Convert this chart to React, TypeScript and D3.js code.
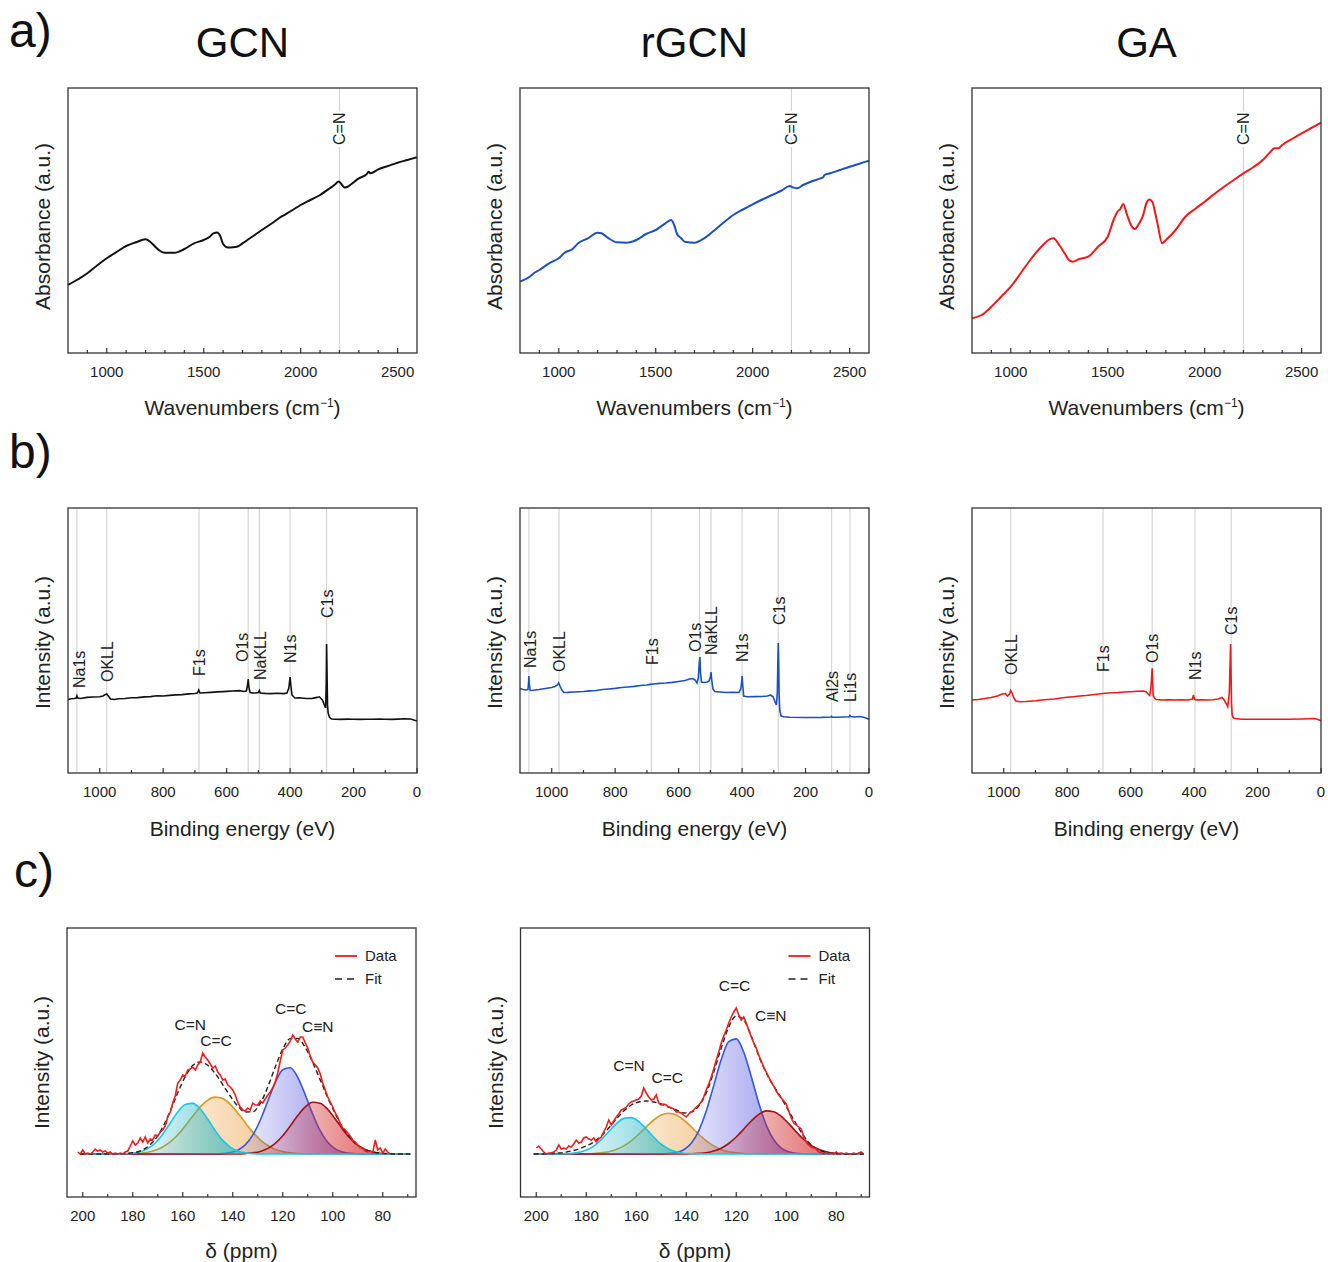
import React from "react";
import * as d3 from "d3";

const FONT = "'Liberation Sans', Arial, Helvetica, sans-serif";

// ---------- panel a: FTIR ----------
const ftirGcnX = [800, 850, 900, 950, 1000, 1050, 1100, 1150, 1200, 1225, 1250, 1275, 1300, 1350, 1400, 1450, 1500, 1530, 1550, 1570, 1585, 1600, 1625, 1650, 1675, 1700, 1750, 1800, 1850, 1900, 1950, 2000, 2050, 2100, 2150, 2180, 2195, 2210, 2225, 2240, 2260, 2300, 2340, 2350, 2360, 2400, 2450, 2500, 2550, 2600];
const ftirGcnY = [68, 73.5, 79.7, 87.5, 94.7, 101, 107, 110.7, 113.7, 111, 106.3, 102, 100.3, 100.3, 104, 109.7, 113, 116, 119.7, 120.5, 117, 109, 105.5, 105.7, 106.5, 109.7, 116.3, 123, 129.5, 136.3, 142, 148, 153, 158, 164.7, 169, 171.5, 169, 165.5, 166, 168.7, 174.7, 178.7, 181.3, 179.7, 183.7, 187, 190.3, 193, 195.7];

const ftirRgcnX = [800, 850, 875, 900, 950, 1000, 1030, 1070, 1100, 1150, 1200, 1220, 1250, 1300, 1350, 1400, 1450, 1500, 1550, 1580, 1595, 1610, 1630, 1650, 1700, 1750, 1800, 1850, 1900, 1950, 2000, 2050, 2100, 2150, 2190, 2210, 2230, 2260, 2300, 2350, 2365, 2370, 2400, 2450, 2500, 2550, 2600];
const ftirRgcnY = [71.3, 76.3, 80.3, 83, 89.7, 94.7, 100.3, 103.7, 109.7, 114.7, 120.3, 119.7, 115.7, 110.7, 110.3, 113, 119, 123, 129.7, 133, 128, 119, 115, 111.3, 110.3, 114.7, 122.3, 130.5, 138, 143.5, 148.7, 153.5, 158, 162.5, 167, 165.5, 164.7, 168, 171.3, 174.7, 176, 178, 179.7, 183, 186.3, 189.3, 192.3];

const ftirGaX = [800, 850, 900, 950, 1000, 1050, 1100, 1150, 1200, 1220, 1250, 1280, 1300, 1320, 1350, 1400, 1450, 1500, 1530, 1550, 1565, 1580, 1600, 1620, 1640, 1660, 1680, 1700, 1715, 1730, 1745, 1760, 1780, 1800, 1850, 1900, 1950, 2000, 2050, 2100, 2150, 2200, 2250, 2300, 2340, 2360, 2380, 2400, 2450, 2500, 2550, 2600];
const ftirGaY = [34.7, 38, 46.3, 56.3, 66.3, 79.5, 93, 104.7, 113.7, 114.7, 108, 99, 93, 91.3, 93.7, 96.3, 106.3, 116.3, 133, 141.3, 144, 149, 138, 128, 124, 129, 136.3, 150, 153.5, 151.3, 140, 126.3, 109.7, 113, 123, 136.3, 144, 151.3, 159, 166.3, 173, 179.7, 185.7, 193, 201.3, 204.7, 204.7, 208, 214, 219.7, 225, 230.3];

const ftirMajorTicks = [1000, 1500, 2000, 2500];
const ftirMarkerWn = 2200;
const ftirMarkerLabel = "C=N";

// ---------- panel b: XPS survey ----------
const xpsGcnEv = [1100, 1090, 1080, 1074, 1072, 1070, 1060, 1040, 1020, 1000, 990, 982, 978, 974, 966, 955, 940, 920, 900, 880, 860, 840, 820, 800, 780, 760, 740, 720, 700, 692, 688, 684, 670, 650, 630, 610, 600, 580, 560, 545, 538, 534, 532, 530, 526, 520, 510, 500, 497, 494, 480, 460, 440, 420, 410, 404, 400, 397, 394, 385, 370, 350, 330, 315, 308, 298, 292, 288, 286, 285, 284, 282, 280, 276, 270, 260, 240, 220, 200, 180, 160, 140, 120, 100, 80, 60, 40, 20, 10, 5, 0];
const xpsGcnI = [73.5, 74.2, 74.5, 75, 77, 75, 74.5, 75.6, 76, 76.2, 77, 78.5, 79, 77.5, 74, 73.5, 74.2, 74.5, 75.2, 75.4, 76.1, 76.4, 77.2, 77, 77.6, 78.1, 78.4, 79.1, 79.5, 80, 83, 80, 80.2, 80.6, 81.1, 81.4, 81.6, 82, 82.4, 81.5, 82, 88, 94, 86, 80.5, 80.1, 80, 80.5, 82.5, 80, 79.6, 79.4, 79.7, 79.4, 80, 85, 96, 86, 78, 75, 75.2, 74.5, 74.6, 75.6, 76.2, 73, 68, 65, 90, 129, 110, 68, 60, 56, 54, 53.8, 53.6, 53.9, 53.7, 53.6, 53.8, 53.7, 53.9, 53.7, 53.6, 53.9, 54.3, 54, 53, 52.6, 52];
const xpsGcnLabels = ["Na1s", "OKLL", "F1s", "O1s", "NaKLL", "N1s", "C1s"];
const xpsGcnLineEv = [1072, 978, 687, 532, 497, 400, 285];
const xpsGcnLabelEv = [1067, 978, 687, 553, 497, 400, 285];
const xpsGcnLabelAt = [85, 91, 97, 111, 93, 110, 155];

const xpsRgcnEv = [1100, 1090, 1080, 1075, 1073, 1072, 1071, 1068, 1060, 1040, 1020, 1000, 990, 982, 978, 974, 968, 962, 950, 930, 900, 880, 860, 840, 820, 800, 780, 760, 740, 720, 700, 690, 680, 660, 640, 620, 600, 580, 565, 555, 548, 542, 538, 535, 533, 531, 528, 520, 510, 504, 500, 498, 496, 492, 486, 470, 450, 430, 410, 404, 401, 400, 398, 395, 385, 360, 340, 320, 310, 302, 296, 292, 289, 287, 286, 285, 283, 281, 277, 270, 250, 200, 150, 120, 118, 116, 100, 80, 62, 60, 58, 45, 30, 20, 10, 0];
const xpsRgcnI = [84.5, 83.5, 83, 83.5, 90, 97, 90, 82.5, 82.7, 83.5, 84.5, 85.5, 86.5, 88, 90, 87, 83, 80.5, 80.6, 81, 81.5, 82.1, 82.5, 83.5, 84, 84.6, 85.5, 86, 86.6, 87.5, 88, 88.6, 89, 89.6, 90, 90.6, 91.5, 92.5, 94, 94.5, 93, 90, 95, 110, 116, 100, 91, 90.5, 91, 92, 96, 101, 94, 84, 81.5, 81, 80.5, 80.6, 80.5, 84, 92, 97, 88, 77, 76.3, 76.4, 76.5, 77, 78, 76, 71, 68, 80, 115, 130, 118, 75, 62, 57, 56.3, 55.8, 55.5, 55.6, 56, 56.6, 55.7, 55.8, 56, 56.3, 57.5, 56.5, 56, 56.5, 56, 55, 53.7];
const xpsRgcnLabels = ["Na1s", "OKLL", "F1s", "O1s", "NaKLL", "N1s", "C1s", "Al2s", "Li1s"];
const xpsRgcnLineEv = [1072, 977, 686, 534, 498, 400, 286, 118, 60];
const xpsRgcnLabelEv = [1070, 977, 686, 550, 498, 400, 286, 118, 60];
const xpsRgcnLabelAt = [105, 101, 108, 121, 118, 111, 148, 71, 71];

const xpsGaEv = [1100, 1080, 1060, 1040, 1020, 1005, 995, 988, 982, 978, 974, 968, 962, 950, 930, 900, 880, 860, 840, 820, 800, 780, 760, 740, 720, 700, 680, 660, 640, 620, 600, 580, 560, 550, 545, 540, 536, 533, 532, 531, 529, 526, 520, 500, 480, 460, 440, 420, 405, 402, 399, 395, 380, 360, 340, 325, 312, 305, 298, 294, 289, 286, 285, 284, 282, 280, 276, 270, 250, 200, 150, 100, 60, 40, 20, 10, 0];
const xpsGaI = [73, 73.5, 74.5, 75.5, 77, 79, 79.5, 77, 79, 82.5, 80, 75, 72, 71.3, 71.5, 72.3, 73, 73.5, 74, 75, 75.7, 76.3, 77, 77.5, 78.3, 79, 79.7, 80.2, 80.5, 81, 81.3, 81.7, 82, 81, 79, 77.5, 85, 100, 104.7, 95, 78, 75.5, 73.5, 73, 73.2, 73, 73.3, 73, 74, 78, 74, 73, 73.2, 73, 73.3, 74, 75.5, 73, 69, 66.3, 80, 115, 129, 110, 70, 58, 55, 54.5, 53.8, 53.7, 53.8, 53.7, 54, 54.2, 54.5, 53.5, 52.3];
const xpsGaLabels = ["OKLL", "F1s", "O1s", "N1s", "C1s"];
const xpsGaLineEv = [978, 687, 532, 397, 283];
const xpsGaLabelEv = [978, 687, 532, 397, 283];
const xpsGaLabelAt = [98, 101, 110, 93, 138];

const xpsMajorTicks = [1000, 800, 600, 400, 200, 0];

// ---------- panel c: 13C NMR ----------
const nmrGrid = [201, 198, 195, 192, 189, 186, 183, 180, 177, 174, 171, 168, 165, 162, 159, 156, 153, 150, 147, 144, 141, 138, 135, 132, 129, 126, 123, 120, 117, 114, 111, 108, 105, 102, 99, 96, 93, 90, 87, 84, 81, 78, 75, 72, 69];

const nmrGcnPpm = [202, 201, 200, 199, 198, 197, 196, 195, 194, 193, 192, 191, 190, 189, 188, 187, 186, 185, 184, 183, 182, 181, 180, 179, 178, 177, 176, 175, 174, 173, 172, 171, 170, 169, 168, 167, 166, 165, 164, 163, 162, 161, 160, 159, 158, 157, 156, 155, 154, 153, 152, 151, 150, 149, 148, 147, 146, 145, 144, 143, 142, 141, 140, 139, 138, 137, 136, 135, 134, 133, 132, 131, 130, 129, 128, 127, 126, 125, 124, 123, 122, 121, 120, 119, 118, 117, 116, 115, 114, 113, 112, 111, 110, 109, 108, 107, 106, 105, 104, 103, 102, 101, 100, 99, 98, 97, 96, 95, 94, 93, 92, 91, 90, 89, 88, 87, 86, 85, 84, 83, 82, 81, 80, 79, 78, 77];
const nmrGcnData = [0.02, 0, 0.04, 0, 0.01, 0, 0.02, 0.05, 0.03, 0.04, 0.02, 0.03, 0.01, 0.02, 0, 0.01, 0, 0.01, 0, 0.02, 0.03, 0.08, 0.13, 0.09, 0.11, 0.16, 0.12, 0.17, 0.11, 0.15, 0.14, 0.19, 0.18, 0.22, 0.24, 0.28, 0.37, 0.42, 0.51, 0.58, 0.71, 0.74, 0.79, 0.78, 0.84, 0.85, 0.87, 0.84, 0.89, 0.92, 1.01, 0.97, 0.94, 0.9, 0.86, 0.88, 0.82, 0.79, 0.74, 0.75, 0.69, 0.67, 0.64, 0.59, 0.52, 0.47, 0.44, 0.43, 0.46, 0.44, 0.51, 0.49, 0.49, 0.53, 0.51, 0.55, 0.59, 0.62, 0.66, 0.72, 0.81, 0.93, 1.04, 1.06, 1.09, 1.13, 1.19, 1.15, 1.12, 1.17, 1.17, 1.11, 1.06, 0.98, 0.92, 0.89, 0.86, 0.8, 0.71, 0.64, 0.57, 0.52, 0.47, 0.41, 0.37, 0.3, 0.26, 0.24, 0.21, 0.18, 0.14, 0.12, 0.09, 0.07, 0.06, 0.03, 0.02, 0.03, 0.01, 0.14, 0.04, 0.06, 0.01, 0.05, 0.02, 0];
const nmrGcnFit = [0, 0, 0, 0, 0, 0.002, 0.005, 0.012, 0.03, 0.072, 0.147, 0.268, 0.431, 0.612, 0.774, 0.884, 0.921, 0.887, 0.804, 0.694, 0.58, 0.48, 0.42, 0.422, 0.506, 0.669, 0.87, 1.05, 1.154, 1.156, 1.066, 0.915, 0.74, 0.563, 0.402, 0.266, 0.162, 0.089, 0.044, 0.02, 0.008, 0.003, 0, 0, 0];
const nmrGcnCyan = [0, 0, 0, 0, 0, 0.001, 0.003, 0.008, 0.022, 0.054, 0.11, 0.198, 0.31, 0.42, 0.494, 0.506, 0.45, 0.348, 0.234, 0.136, 0.069, 0.03, 0.012, 0.004, 0.001, 0, 0, 0, 0, 0, 0, 0, 0, 0, 0, 0, 0, 0, 0, 0, 0, 0, 0, 0, 0];
const nmrGcnOrange = [0, 0, 0, 0, 0, 0.001, 0.002, 0.004, 0.008, 0.018, 0.037, 0.07, 0.121, 0.192, 0.28, 0.378, 0.471, 0.539, 0.569, 0.554, 0.497, 0.411, 0.313, 0.219, 0.142, 0.085, 0.047, 0.024, 0.011, 0.005, 0.002, 0, 0, 0, 0, 0, 0, 0, 0, 0, 0, 0, 0, 0, 0];
const nmrGcnBlue = [0, 0, 0, 0, 0, 0, 0, 0, 0, 0, 0, 0, 0, 0, 0, 0, 0, 0, 0.001, 0.004, 0.014, 0.038, 0.091, 0.188, 0.338, 0.528, 0.716, 0.843, 0.863, 0.767, 0.593, 0.398, 0.232, 0.117, 0.052, 0.02, 0.007, 0.002, 0, 0, 0, 0, 0, 0, 0];
const nmrGcnRed = [0, 0, 0, 0, 0, 0, 0, 0, 0, 0, 0, 0, 0, 0, 0, 0, 0, 0, 0, 0, 0, 0, 0.004, 0.011, 0.026, 0.056, 0.107, 0.183, 0.28, 0.384, 0.471, 0.517, 0.508, 0.446, 0.35, 0.246, 0.155, 0.087, 0.044, 0.02, 0.008, 0.003, 0, 0, 0];
const nmrGcnLabels = ["C=N", "C=C", "C=C", "C≡N"];
const nmrGcnLabelPpm = [157, 146.7, 116.8, 106];
const nmrGcnLabelAt = [1.29, 1.13, 1.45, 1.27];

const nmrRgcnPpm = [200, 199, 198, 197, 196, 195, 194, 193, 192, 191, 190, 189, 188, 187, 186, 185, 184, 183, 182, 181, 180, 179, 178, 177, 176, 175, 174, 173, 172, 171, 170, 169, 168, 167, 166, 165, 164, 163, 162, 161, 160, 159, 158, 157, 156, 155, 154, 153, 152, 151, 150, 149, 148, 147, 146, 145, 144, 143, 142, 141, 140, 139, 138, 137, 136, 135, 134, 133, 132, 131, 130, 129, 128, 127, 126, 125, 124, 123, 122, 121, 120, 119, 118, 117, 116, 115, 114, 113, 112, 111, 110, 109, 108, 107, 106, 105, 104, 103, 102, 101, 100, 99, 98, 97, 96, 95, 94, 93, 92, 91, 90, 89, 88, 87, 86, 85, 84, 83, 82, 81, 80, 79, 78, 77, 76, 75, 74, 73, 72, 71, 70, 69];
const nmrRgcnData = [0.06, 0.08, 0.05, 0.02, 0, 0.01, 0.01, 0.02, 0.04, 0.09, 0.05, 0.06, 0.05, 0.08, 0.07, 0.1, 0.14, 0.11, 0.12, 0.16, 0.17, 0.15, 0.14, 0.16, 0.12, 0.15, 0.17, 0.22, 0.27, 0.34, 0.29, 0.33, 0.37, 0.4, 0.44, 0.45, 0.47, 0.5, 0.52, 0.53, 0.54, 0.55, 0.58, 0.66, 0.61, 0.57, 0.54, 0.55, 0.59, 0.51, 0.49, 0.5, 0.49, 0.47, 0.46, 0.45, 0.42, 0.42, 0.41, 0.39, 0.37, 0.4, 0.42, 0.44, 0.47, 0.49, 0.52, 0.57, 0.64, 0.7, 0.77, 0.85, 0.94, 1.02, 1.11, 1.18, 1.24, 1.31, 1.37, 1.42, 1.46, 1.39, 1.34, 1.37, 1.31, 1.24, 1.17, 1.11, 1.06, 0.99, 0.93, 0.87, 0.82, 0.77, 0.72, 0.68, 0.63, 0.59, 0.56, 0.53, 0.5, 0.43, 0.36, 0.31, 0.29, 0.27, 0.25, 0.17, 0.12, 0.09, 0.07, 0.06, 0.05, 0.02, 0.01, 0, 0.01, 0, 0.01, 0, 0.02, 0, 0.01, 0, 0.01, 0, 0, 0.01, 0, 0.01, 0.02, 0];
const nmrRgcnFit = [0, 0, 0.003, 0.008, 0.015, 0.03, 0.05, 0.08, 0.12, 0.18, 0.26, 0.35, 0.43, 0.49, 0.52, 0.53, 0.52, 0.5, 0.47, 0.44, 0.41, 0.42, 0.48, 0.61, 0.82, 1.06, 1.27, 1.38, 1.34, 1.18, 0.98, 0.81, 0.68, 0.56, 0.43, 0.3, 0.18, 0.09, 0.04, 0.015, 0.005, 0, 0, 0, 0];
const nmrRgcnCyan = [0, 0, 0, 0, 0.002, 0.006, 0.016, 0.039, 0.079, 0.143, 0.223, 0.302, 0.356, 0.364, 0.324, 0.25, 0.168, 0.098, 0.05, 0.022, 0.008, 0.003, 0.001, 0, 0, 0, 0, 0, 0, 0, 0, 0, 0, 0, 0, 0, 0, 0, 0, 0, 0, 0, 0, 0, 0];
const nmrRgcnOrange = [0, 0, 0, 0, 0, 0, 0.001, 0.002, 0.005, 0.011, 0.023, 0.045, 0.081, 0.132, 0.198, 0.271, 0.34, 0.389, 0.407, 0.389, 0.34, 0.271, 0.198, 0.132, 0.081, 0.045, 0.023, 0.011, 0.005, 0.002, 0.001, 0, 0, 0, 0, 0, 0, 0, 0, 0, 0, 0, 0, 0, 0];
const nmrRgcnBlue = [0, 0, 0, 0, 0, 0, 0, 0, 0, 0, 0, 0, 0, 0, 0, 0, 0, 0.001, 0.005, 0.015, 0.043, 0.108, 0.232, 0.429, 0.686, 0.944, 1.123, 1.151, 1.017, 0.775, 0.51, 0.289, 0.142, 0.059, 0.022, 0.007, 0.002, 0, 0, 0, 0, 0, 0, 0, 0];
const nmrRgcnRed = [0, 0, 0, 0, 0, 0, 0, 0, 0, 0, 0, 0, 0, 0, 0, 0, 0, 0, 0, 0, 0, 0.002, 0.006, 0.013, 0.03, 0.058, 0.105, 0.17, 0.249, 0.33, 0.396, 0.431, 0.423, 0.377, 0.304, 0.221, 0.146, 0.087, 0.047, 0.023, 0.01, 0.004, 0.001, 0, 0];
const nmrRgcnLabels = ["C=N", "C=C", "C=C", "C≡N"];
const nmrRgcnLabelPpm = [162.9, 147.6, 120.7, 106.2];
const nmrRgcnLabelAt = [0.88, 0.76, 1.68, 1.38];

const nmrMajorTicks = [200, 180, 160, 140, 120, 100, 80];
const nmrMinorTicks = [190, 170, 150, 130, 110, 90, 70];
const legendNames = ["Data", "Fit"];

const COLS = [68, 520, 972];
const W = 349;
const TITLE_SIZE = 21;

function Frame({ left, top, h }) {
  return <rect x={left} y={top} width={W} height={h} fill="none" stroke="#333" strokeWidth={1.3} />;
}

function Ticks({ x, bottom, major, minor }) {
  return (
    <g stroke="#333" strokeWidth={1.2}>
      {major.map((t) => <line key={"M" + t} x1={x(t)} x2={x(t)} y1={bottom} y2={bottom - 5} />)}
      {minor.map((t) => <line key={"m" + t} x1={x(t)} x2={x(t)} y1={bottom} y2={bottom - 3} />)}
    </g>
  );
}

function TickLabels({ x, bottom, major }) {
  return (
    <g fontSize={15} fill="#222" textAnchor="middle">
      {major.map((t) => <text key={t} x={x(t)} y={bottom + 24}>{t}</text>)}
    </g>
  );
}

function FtirPanel({ left, xs, ys, color, title }) {
  const top = 88, h = 265, bottom = top + h;
  const x = d3.scaleLinear().domain([800, 2600]).range([left, left + W]);
  const y = d3.scaleLinear().domain([0, 265]).range([bottom, top]);
  const line = d3.line<number>().x((_, i) => x(xs[i])).y((d) => y(d)).curve(d3.curveMonotoneX);
  const minor = d3.range(900, 2600, 100).filter((t) => !ftirMajorTicks.includes(t));
  const mx = x(ftirMarkerWn);
  return (
    <g>
      <text x={left + W / 2} y={57} fontSize={42} textAnchor="middle" fill="#111">{title}</text>
      <line x1={mx} x2={mx} y1={top} y2={bottom} stroke="#d6d6d6" strokeWidth={1.2} />
      <text transform={`translate(${mx},${y(208)}) rotate(-90)`} dy="0.36em" fontSize={16} fill="#222"
        stroke="#fff" strokeWidth={5} style={{ paintOrder: "stroke" }}>{ftirMarkerLabel}</text>
      <path d={line(ys) || ""} fill="none" stroke={color} strokeWidth={2} />
      <Frame left={left} top={top} h={h} />
      <Ticks x={x} bottom={bottom} major={ftirMajorTicks} minor={minor} />
      <TickLabels x={x} bottom={bottom} major={ftirMajorTicks} />
      <text x={left + W / 2} y={bottom + 62} fontSize={TITLE_SIZE} textAnchor="middle" fill="#222">
        Wavenumbers (cm<tspan dy={-8} fontSize={12}>−1</tspan><tspan dy={8}>)</tspan>
      </text>
      <text transform={`translate(${left - 18},${top + h / 2 + 6}) rotate(-90)`} fontSize={TITLE_SIZE} textAnchor="middle" fill="#222">Absorbance (a.u.)</text>
    </g>
  );
}

function XpsPanel({ left, ev, vals, color, labels, lineEv, labelEv, labelAt }) {
  const top = 508, h = 265, bottom = top + h;
  const x = d3.scaleLinear().domain([1100, 0]).range([left, left + W]);
  const y = d3.scaleLinear().domain([0, 265]).range([bottom, top]);
  const line = d3.line<number>().x((_, i) => x(ev[i])).y((d) => y(d));
  const minor = [900, 700, 500, 300, 100];
  return (
    <g>
      {lineEv.map((e, i) => (
        <line key={"g" + i} x1={x(e)} x2={x(e)} y1={top} y2={bottom} stroke="#d6d6d6" strokeWidth={1.2} />
      ))}
      <path d={line(vals) || ""} fill="none" stroke={color} strokeWidth={1.6} />
      {labels.map((l, i) => (
        <text key={l} transform={`translate(${x(labelEv[i]) + 0.5},${y(labelAt[i])}) rotate(-90)`} dy="0.36em" fontSize={16} fill="#222">{l}</text>
      ))}
      <Frame left={left} top={top} h={h} />
      <Ticks x={x} bottom={bottom} major={xpsMajorTicks} minor={minor} />
      <TickLabels x={x} bottom={bottom} major={xpsMajorTicks} />
      <text x={left + W / 2} y={bottom + 63} fontSize={TITLE_SIZE} textAnchor="middle" fill="#222">Binding energy (eV)</text>
      <text transform={`translate(${left - 18},${top + h / 2 + 2}) rotate(-90)`} fontSize={TITLE_SIZE} textAnchor="middle" fill="#222">Intensity (a.u.)</text>
    </g>
  );
}

const compStyles = [
  { key: "orange", line: "#d49a22", fill: "#eeaa55" },
  { key: "blue", line: "#3358dd", fill: "#6a6ae6" },
  { key: "red", line: "#a81018", fill: "#d42a2a" },
  { key: "cyan", line: "#1cc4e6", fill: "#22b8c4" },
];

function NmrPanel({ id, left, ppm, data, fit, comps, labels, labelPpm, labelAt }) {
  const top = 928, h = 269, bottom = top + h;
  const x = d3.scaleLinear().domain([206.3, 66.3]).range([left, left + W + 1]);
  const y = d3.scaleLinear().domain([-0.43, 2.26]).range([bottom, top]);
  const gridLine = d3.line<number>().x((_, i) => x(nmrGrid[i])).y((d) => y(d)).curve(d3.curveMonotoneX);
  const gridArea = d3.area<number>().x((_, i) => x(nmrGrid[i])).y0(y(0)).y1((d) => y(d)).curve(d3.curveMonotoneX);
  const dataLine = d3.line<number>().x((_, i) => x(ppm[i])).y((d) => y(d));
  const legX = left + 268;
  return (
    <g>
      <defs>
        {compStyles.map((s, k) => {
          const vals = comps[k];
          const idx = vals.map((v, i) => (v > 0.004 ? i : -1)).filter((i) => i >= 0);
          const x1 = x(nmrGrid[idx[0]]);
          const x2 = x(nmrGrid[idx[idx.length - 1]]);
          return (
            <linearGradient key={s.key} id={`${id}-${s.key}`} gradientUnits="userSpaceOnUse" x1={x1} x2={x2} y1={0} y2={0}>
              <stop offset="0" stopColor={s.fill} stopOpacity={0.06} />
              <stop offset="1" stopColor={s.fill} stopOpacity={0.72} />
            </linearGradient>
          );
        })}
      </defs>
      {compStyles.map((s, k) => (
        <g key={s.key}>
          <path d={gridArea(comps[k]) || ""} fill={`url(#${id}-${s.key})`} />
          <path d={gridLine(comps[k]) || ""} fill="none" stroke={s.line} strokeWidth={1.6} />
        </g>
      ))}
      <path d={gridLine(fit) || ""} fill="none" stroke="#222" strokeWidth={1.4} strokeDasharray="5 3" />
      <path d={dataLine(data) || ""} fill="none" stroke="#ee1c1c" strokeWidth={1.6} />
      {labels.map((l, i) => (
        <text key={i} x={x(labelPpm[i])} y={y(labelAt[i])} dy="0.35em" fontSize={15.5} textAnchor="middle" fill="#222">{l}</text>
      ))}
      <line x1={legX} x2={legX + 22} y1={956} y2={956} stroke="#ee1c1c" strokeWidth={1.8} />
      <text x={legX + 30} y={961} fontSize={15} fill="#222">{legendNames[0]}</text>
      <line x1={legX} x2={legX + 22} y1={979} y2={979} stroke="#222" strokeWidth={1.6} strokeDasharray="7 5" />
      <text x={legX + 30} y={984} fontSize={15} fill="#222">{legendNames[1]}</text>
      <Frame left={left} top={top} h={h} />
      <Ticks x={x} bottom={bottom} major={nmrMajorTicks} minor={nmrMinorTicks} />
      <TickLabels x={x} bottom={bottom} major={nmrMajorTicks} />
      <text x={left + W / 2} y={bottom + 61} fontSize={TITLE_SIZE} textAnchor="middle" fill="#222">δ (ppm)</text>
      <text transform={`translate(${left - 18},${top + h / 2}) rotate(-90)`} fontSize={TITLE_SIZE} textAnchor="middle" fill="#222">Intensity (a.u.)</text>
    </g>
  );
}

export default function App() {
  return (
    <svg width={1328} height={1262} style={{ position: "absolute", left: 0, top: 0, background: "#fff" }} fontFamily={FONT}>
      <rect width={1328} height={1262} fill="#fff" />
      <g fontSize={48} fill="#111">
        <text x={9} y={47}>a)</text>
        <text x={9} y={468}>b)</text>
        <text x={14} y={887}>c)</text>
      </g>
      <FtirPanel left={COLS[0]} xs={ftirGcnX} ys={ftirGcnY} color="#111" title="GCN" />
      <FtirPanel left={COLS[1]} xs={ftirRgcnX} ys={ftirRgcnY} color="#1c50c0" title="rGCN" />
      <FtirPanel left={COLS[2]} xs={ftirGaX} ys={ftirGaY} color="#f01818" title="GA" />
      <XpsPanel left={COLS[0]} ev={xpsGcnEv} vals={xpsGcnI} color="#111" labels={xpsGcnLabels} lineEv={xpsGcnLineEv} labelEv={xpsGcnLabelEv} labelAt={xpsGcnLabelAt} />
      <XpsPanel left={COLS[1]} ev={xpsRgcnEv} vals={xpsRgcnI} color="#1c50c0" labels={xpsRgcnLabels} lineEv={xpsRgcnLineEv} labelEv={xpsRgcnLabelEv} labelAt={xpsRgcnLabelAt} />
      <XpsPanel left={COLS[2]} ev={xpsGaEv} vals={xpsGaI} color="#f01818" labels={xpsGaLabels} lineEv={xpsGaLineEv} labelEv={xpsGaLabelEv} labelAt={xpsGaLabelAt} />
      <NmrPanel id="gcn" left={67} ppm={nmrGcnPpm} data={nmrGcnData} fit={nmrGcnFit}
        comps={[nmrGcnOrange, nmrGcnBlue, nmrGcnRed, nmrGcnCyan]}
        labels={nmrGcnLabels} labelPpm={nmrGcnLabelPpm} labelAt={nmrGcnLabelAt} />
      <NmrPanel id="rgcn" left={520.5} ppm={nmrRgcnPpm} data={nmrRgcnData} fit={nmrRgcnFit}
        comps={[nmrRgcnOrange, nmrRgcnBlue, nmrRgcnRed, nmrRgcnCyan]}
        labels={nmrRgcnLabels} labelPpm={nmrRgcnLabelPpm} labelAt={nmrRgcnLabelAt} />
    </svg>
  );
}
